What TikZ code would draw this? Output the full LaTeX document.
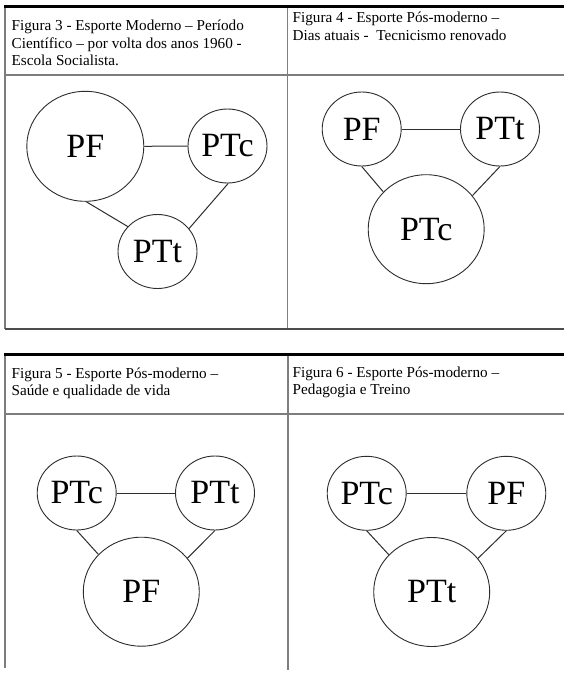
\documentclass[tikz,border=0pt]{standalone}
\usepackage{fontspec}
\setmainfont{Liberation Serif}
\usetikzlibrary{shapes.geometric}
\definecolor{circ}{RGB}{45,45,45}
\definecolor{rulegray}{RGB}{125,125,125}
\begin{document}
\begin{tikzpicture}[x=1pt,y=-1pt,
  small/.style={ellipse,draw=circ,line width=0.9pt,minimum width=79pt,minimum height=74pt,inner sep=0pt,font=\fontsize{34}{34}\selectfont},
  big/.style={small,minimum width=116pt,minimum height=109pt},
  link/.style={draw=circ,line width=1pt},
  ttl/.style={anchor=base west,inner sep=0pt,font=\fontsize{15.2}{17.5}\selectfont},
  thin/.style={draw=rulegray,line width=1.4pt},
  heavy/.style={draw=black,line width=2.2pt}]
\useasboundingbox (0,0) rectangle (564,673);
\fill[white] (0,0) rectangle (564,673);
% top table
\draw[thin] (5,6.5) -- (5,329);
\draw[thin] (287.5,6.5) -- (287.5,329);
\draw[thin] (5,75) -- (564,75);
\draw[thin,draw=black!70] (5,329) -- (564,329);
\draw[heavy] (4.3,6.5) -- (564,6.5);
% bottom table
\draw[thin] (5,354.5) -- (5,668);
\draw[thin] (288,354.5) -- (288,670);
\draw[thin] (5,414) -- (564,414);
\draw[heavy] (4.3,354.5) -- (564,354.5);
% titles
\node[ttl] (t3a) at (11.5,30.7) {Figura 3 - Esporte Moderno – Período};
\node[ttl] (t3b) at (11.5,48.2) {Científico – por volta dos anos 1960 -};
\node[ttl] (t3c) at (11.5,65.7) {Escola Socialista.};
\node[ttl] (t4a) at (292.5,22.5) {Figura 4 - Esporte Pós-moderno –};
\node[ttl] (t4b) at (292.5,40) {Dias atuais -~ Tecnicismo renovado};
\node[ttl] (t5a) at (11.5,378.5) {Figura 5 - Esporte Pós-moderno –};
\node[ttl] (t5b) at (11.5,395.7) {Saúde e qualidade de vida};
\node[ttl] (t6a) at (292.5,377.5) {Figura 6 - Esporte Pós-moderno –};
\node[ttl] (t6b) at (292.5,394.7) {Pedagogia e Treino};
% figure 3
\node[big,minimum width=117pt,minimum height=110pt] (f3pf) at (85.3,146.3) {PF};
\node[small] (f3ptc) at (227.5,146) {PTc};
\node[small] (f3ptt) at (157.5,251.5) {PTt};
\draw[link] (f3pf.east) -- (f3ptc.west);
\draw[link] (f3pf.-89) -- (f3ptt.140);
\draw[link] (f3ptc.-89) -- (f3ptt.36);
% figure 4
\node[small] (f4pf) at (361.7,129) {PF};
\node[small] (f4ptt) at (500,129) {PTt};
\node[big] (f4ptc) at (426.2,229.2) {PTc};
\draw[link] (f4pf.east) -- (f4ptt.west);
\draw[link] (f4pf.-90) -- (f4ptc.139);
\draw[link] (f4ptt.-90) -- (f4ptc.36);
% figure 5
\node[small] (f5ptc) at (76.7,493) {PTc};
\node[small] (f5ptt) at (215,493) {PTt};
\node[big] (f5pf) at (141.3,591.7) {PF};
\draw[link] (f5ptc.east) -- (f5ptt.west);
\draw[link] (f5ptc.-90) -- (f5pf.139);
\draw[link] (f5ptt.-90) -- (f5pf.36);
% figure 6
\node[small] (f6ptc) at (366.7,493.3) {PTc};
\node[small] (f6pf) at (506.3,493.3) {PF};
\node[big] (f6ptt) at (431.7,592) {PTt};
\draw[link] (f6ptc.east) -- (f6pf.west);
\draw[link] (f6ptc.-90) -- (f6ptt.139);
\draw[link] (f6pf.-90) -- (f6ptt.36);
\end{tikzpicture}
\end{document}
